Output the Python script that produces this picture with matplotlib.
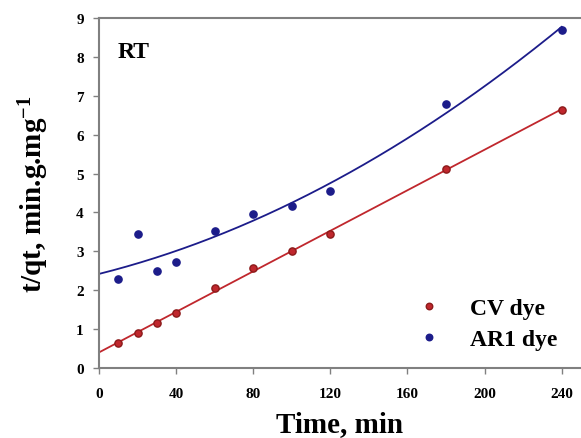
import matplotlib.pyplot as plt
import numpy as np

plt.rcParams['font.family'] = ['Liberation Serif', 'DejaVu Serif']
plt.rcParams['font.weight'] = 'bold'
plt.rcParams['mathtext.fontset'] = 'custom'
plt.rcParams['mathtext.rm'] = 'Liberation Serif:bold'
plt.rcParams['mathtext.bf'] = 'Liberation Serif:bold'
plt.rcParams['mathtext.default'] = 'bf'

# data
time_min = [10, 20, 30, 40, 60, 80, 100, 120, 180, 240]
cv_dye = [0.63, 0.90, 1.16, 1.41, 2.05, 2.57, 3.02, 3.45, 5.12, 6.63]
ar1_dye = [2.28, 3.45, 2.49, 2.72, 3.52, 3.95, 4.16, 4.54, 6.79, 8.69]
x_ticks = [0, 40, 80, 120, 160, 200, 240]
y_ticks = [0, 1, 2, 3, 4, 5, 6, 7, 8, 9]

RED = '#c0272d'
BLUE = '#1c1c8a'

fig = plt.figure(figsize=(5.81, 4.39), dpi=100)
ax = fig.add_axes([0.1704, 0.1595, 0.8296, 0.7972])

t = np.array(time_min)
t_fit = np.linspace(0, 240, 200)

# linear fit for CV, quadratic fit for AR1
cv_coef = np.polyfit(t, cv_dye, 1)
ar1_coef = np.polyfit(t, ar1_dye, 2)
ax.plot(t_fit, np.polyval(cv_coef, t_fit), color=RED, lw=1.3)
ax.plot(t_fit, np.polyval(ar1_coef, t_fit), color=BLUE, lw=1.3)

ax.plot(t, cv_dye, 'o', color=RED, mec='#8b1a1a', ms=5.2, label='CV dye')
ax.plot(t, ar1_dye, 'o', color=BLUE, mec=BLUE, ms=5.2, label='AR1 dye')

ax.set_xlim(0, 250)
ax.set_ylim(0, 9)
ax.set_xticks(x_ticks)
ax.set_yticks(y_ticks)
ax.tick_params(labelsize=11, colors='#808080', labelcolor='black', width=1, length=4)
ax.tick_params(axis='x', pad=10)
ax.tick_params(axis='y', pad=7)
for lab in ax.get_xticklabels() + ax.get_yticklabels():
    lab.set_fontweight('bold')

for side in ['left', 'bottom', 'top']:
    ax.spines[side].set_color('#808080')
    ax.spines[side].set_linewidth(1.5)
ax.spines['right'].set_visible(False)

ax.set_xlabel('Time, min', fontsize=21, fontweight='bold', labelpad=7)
ax.set_ylabel('t/qt, min.g.mg$^{-1}$', fontsize=21, fontweight='bold', labelpad=18)

ax.text(9.8, 8.0, 'RT', fontsize=17, fontweight='bold')

ax.legend(loc='lower right', frameon=False, handletextpad=0.75, markerscale=0.9,
          labelspacing=0.4, bbox_to_anchor=(0.995, -0.01), prop={'weight': 'bold', 'size': 17})

fig.savefig('out.png', dpi=100)
